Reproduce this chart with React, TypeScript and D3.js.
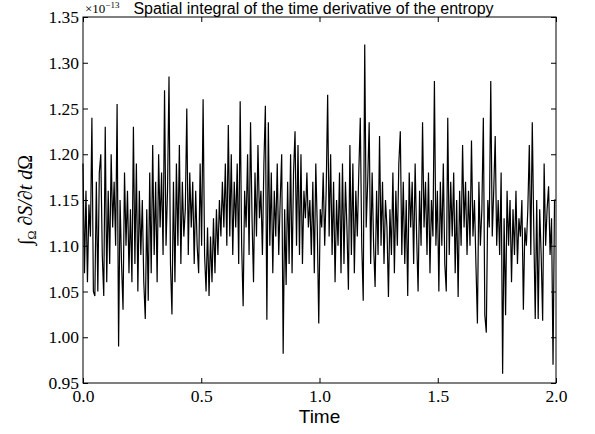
import React, { useEffect, useRef } from 'react';
import * as d3 from 'd3';

const width = 595;
const height = 434;
const margin = { top: 17, bottom: 51, left: 83, right: 39 };

// entropy rate samples (units of 1e-13), equally spaced over t = 0..2
const entropyRate = [
  1.19, 1.07, 1.16, 1.06, 1.145, 1.11, 1.24, 1.05, 1.045, 1.17, 1.05, 1.18, 1.2, 1.09, 1.045, 1.23, 1.06, 1.16, 1.08, 1.2,
  1.12, 1.17, 1.1, 1.255, 0.99, 1.15, 1.08, 1.03, 1.18, 1.1, 1.16, 1.07, 1.14, 1.06, 1.23, 1.08, 1.19, 1.05, 1.16, 1.09,
  1.15, 1.06, 1.02, 1.14, 1.04, 1.18, 1.07, 1.21, 1.09, 1.17, 1.06, 1.2, 1.12, 1.18, 1.09, 1.27, 1.1, 1.16, 1.285, 1.08,
  1.025, 1.17, 1.06, 1.19, 1.1, 1.21, 1.08, 1.17, 1.11, 1.14, 1.25, 1.09, 1.18, 1.12, 1.17, 1.08, 1.16, 1.1, 1.07, 1.19,
  1.1, 1.26, 1.09, 1.05, 1.12, 1.045, 1.11, 1.06, 1.13, 1.07, 1.14, 1.09, 1.15, 1.11, 1.17, 1.12, 1.19, 1.1, 1.232, 1.11,
  1.2, 1.09, 1.17, 1.12, 1.19, 1.08, 1.258, 1.1, 1.034, 1.16, 1.12, 1.2, 1.09, 1.235, 1.13, 1.06, 1.18, 1.11, 1.21, 1.13,
  1.16, 1.09, 1.19, 1.253, 1.019, 1.235, 1.1, 1.18, 1.07, 1.16, 1.11, 1.19, 1.09, 1.15, 1.2, 0.982, 1.14, 1.057, 1.17, 1.08,
  1.2, 1.07, 1.18, 1.225, 1.1, 1.21, 1.09, 1.2, 1.08, 1.16, 1.13, 1.18, 1.12, 1.15, 1.09, 1.17, 1.07, 1.19, 1.12, 1.015,
  1.14, 1.12, 1.18, 1.1, 1.16, 1.265, 1.11, 1.2, 1.09, 1.17, 1.06, 1.15, 1.1, 1.18, 1.07, 1.19, 1.08, 1.17, 1.12, 1.052,
  1.21, 1.09, 1.19, 1.07, 1.16, 1.11, 1.18, 1.24, 1.1, 1.04, 1.32, 1.12, 1.17, 1.235, 1.08, 1.18, 1.1, 1.055, 1.16, 1.09,
  1.22, 1.1, 1.17, 1.08, 1.15, 1.12, 1.044, 1.14, 1.09, 1.18, 1.07, 1.16, 1.1, 1.19, 1.225, 1.09, 1.17, 1.08, 1.15, 1.045,
  1.18, 1.12, 1.17, 1.08, 1.19, 1.11, 1.05, 1.16, 1.1, 1.235, 1.12, 1.17, 1.09, 1.18, 1.07, 1.15, 1.11, 1.28, 1.1, 1.16,
  1.05, 1.17, 1.1, 1.19, 1.08, 1.05, 1.24, 1.09, 1.17, 1.11, 1.18, 1.07, 1.15, 1.044, 1.16, 1.1, 1.21, 1.12, 1.17, 1.09,
  1.16, 1.1, 1.215, 1.11, 1.15, 1.08, 1.015, 1.17, 1.1, 1.14, 1.24, 1.024, 1.005, 1.15, 1.12, 1.28, 1.11, 1.16, 1.22, 1.1,
  1.15, 1.09, 1.18, 0.96, 1.13, 1.024, 1.16, 1.1, 1.15, 1.06, 1.14, 1.09, 1.16, 1.08, 1.13, 1.11, 1.15, 1.03, 1.12, 1.1,
  1.14, 1.21, 1.09, 1.235, 1.12, 1.02, 1.15, 1.02, 1.14, 1.09, 1.018, 1.19, 1.1, 1.14, 1.165, 1.09, 1.13, 0.97, 1.15, 1.15,
];

const tStart = 0;
const tEnd = 2;
const xTicks = [0, 0.5, 1, 1.5, 2];
const yTicks = [0.95, 1.0, 1.05, 1.1, 1.15, 1.2, 1.25, 1.3, 1.35];

const serif = '"Liberation Serif", "DejaVu Serif", serif';
const sans = '"Liberation Sans", Arial, sans-serif';

export default function App() {
  const root = useRef<SVGSVGElement>(null);

  useEffect(() => {
    const w = width - margin.left - margin.right;
    const h = height - margin.top - margin.bottom;
    const n = entropyRate.length;
    const data = entropyRate.map((v, i) => ({ t: tStart + ((tEnd - tStart) * i) / (n - 1), v }));

    const x = d3.scaleLinear().domain([tStart, tEnd]).range([0, w]);
    const y = d3.scaleLinear().domain([0.95, 1.35]).range([h, 0]);

    const svg = d3.select(root.current);
    svg.selectAll('*').remove();
    const g = svg.append('g').attr('transform', `translate(${margin.left},${margin.top})`);

    const line = d3
      .line<{ t: number; v: number }>()
      .x(d => x(d.t))
      .y(d => y(d.v));

    g.append('path')
      .datum(data)
      .attr('d', line)
      .attr('fill', 'none')
      .attr('stroke', '#000')
      .attr('stroke-width', 1.2)
      .attr('stroke-linejoin', 'miter');

    const styleAxis = (sel, labels) => {
      sel.select('.domain').remove();
      sel.attr('font-family', serif).attr('font-size', 17.5);
      sel.selectAll('.tick line').attr('stroke', '#000').attr('stroke-width', 1);
      if (!labels) sel.selectAll('.tick text').remove();
      sel.selectAll('.tick text').attr('fill', '#000');
    };

    g.append('g')
      .attr('transform', `translate(0,${h})`)
      .call(d3.axisBottom(x).tickValues(xTicks).tickSizeInner(-5).tickPadding(7).tickFormat(d3.format('.1f')))
      .call(s => styleAxis(s, true));
    g.append('g')
      .call(d3.axisTop(x).tickValues(xTicks).tickSizeInner(-5))
      .call(s => styleAxis(s, false));
    g.append('g')
      .call(d3.axisLeft(y).tickValues(yTicks).tickSizeInner(-5).tickPadding(4).tickFormat(d3.format('.2f')))
      .call(s => styleAxis(s, true));
    g.append('g')
      .attr('transform', `translate(${w},0)`)
      .call(d3.axisRight(y).tickValues(yTicks).tickSizeInner(-5))
      .call(s => styleAxis(s, false));

    g.append('rect')
      .attr('width', w)
      .attr('height', h)
      .attr('fill', 'none')
      .attr('stroke', '#000')
      .attr('stroke-width', 1);

    svg.append('text')
      .attr('x', 313.5)
      .attr('y', 14)
      .attr('text-anchor', 'middle')
      .style('font-family', sans)
      .style('font-size', '16px')
      .text('Spatial integral of the time derivative of the entropy');

    const off = svg.append('text')
      .attr('x', margin.left + 2)
      .attr('y', 13)
      .style('font-family', serif)
      .style('font-size', '13px');
    off.append('tspan').text('×10');
    off.append('tspan').attr('dy', -5).style('font-size', '9px').text('−13');

    svg.append('text')
      .attr('x', margin.left + w / 2)
      .attr('y', 423)
      .attr('text-anchor', 'middle')
      .style('font-family', sans)
      .style('font-size', '19px')
      .text('Time');

    const yl = svg.append('text')
      .attr('transform', `translate(32,${margin.top + h / 2}) rotate(-90)`)
      .attr('text-anchor', 'middle')
      .style('font-family', serif)
      .style('font-size', '20px')
      .style('font-style', 'italic');
    yl.append('tspan').style('font-style', 'normal').text('∫');
    yl.append('tspan').attr('dy', 4).style('font-size', '12px').style('font-style', 'normal').text('Ω');
    yl.append('tspan').attr('dy', -4).text(' ∂S/∂t d');
    yl.append('tspan').style('font-style', 'normal').text('Ω');
  }, []);

  return (
    <svg
      ref={root}
      width={width}
      height={height}
      style={{ position: 'absolute', left: 0, top: 0, background: '#fff' }}
    />
  );
}
